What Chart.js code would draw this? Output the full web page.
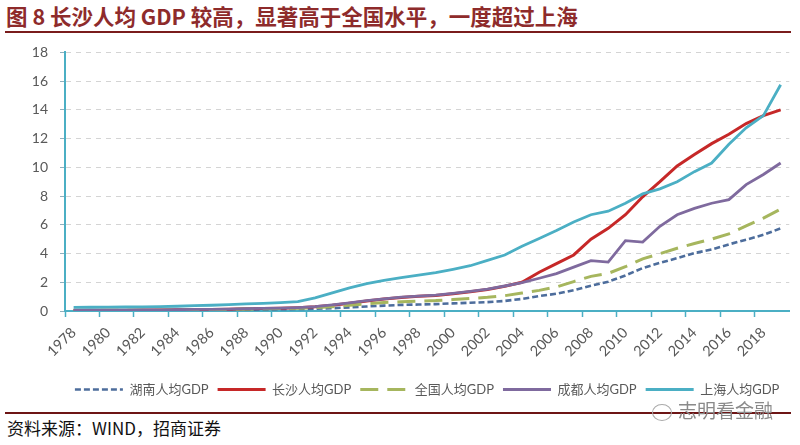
<!DOCTYPE html>
<html>
<head>
<meta charset="utf-8">
<script src="https://cdn.jsdelivr.net/npm/chart.js@4.4.1/dist/chart.umd.min.js"></script>
<style>
html,body{margin:0;padding:0;background:#fff;width:800px;height:445px;overflow:hidden;font-family:'Noto Sans CJK SC',sans-serif;}
#title{position:absolute;left:6px;top:3px;font-size:21.5px;font-weight:bold;color:#8e2b2b;white-space:nowrap;line-height:26px;}
#tline{position:absolute;left:5px;top:31px;width:786px;height:2px;background:#7a1c1c;}
#wrap{position:absolute;left:0;top:32px;width:800px;height:376px;}
#fline{position:absolute;left:5px;top:412px;width:786px;height:2px;background:#6d1515;}
#src{position:absolute;left:7px;top:416px;font-size:17px;color:#111;line-height:24px;white-space:nowrap;}
#wm{position:absolute;left:652px;top:398px;font-size:19px;color:#8a8a8a;white-space:nowrap;line-height:24px;}
#wm .ic{display:inline-block;width:18px;height:15px;border:1.5px solid #aaa;border-radius:50%;vertical-align:middle;margin-right:6px;}
canvas{display:block;}
</style>
</head>
<body>
<div id="title">图 8 长沙人均 GDP 较高，显著高于全国水平，一度超过上海</div>
<div id="tline"></div>
<div id="wrap"><canvas id="c" width="800" height="376"></canvas></div>
<div id="fline"></div>
<div id="src">资料来源：WIND，招商证券</div>
<div id="wm"><span class="ic"></span>志明看金融</div>
<script>
const years = ['1978','1979','1980','1981','1982','1983','1984','1985','1986','1987','1988','1989',
  '1990','1991','1992','1993','1994','1995','1996','1997','1998','1999',
  '2000','2001','2002','2003','2004','2005','2006','2007','2008','2009',
  '2010','2011','2012','2013','2014','2015','2016','2017','2018','2019'];

const seriesNames = ['湖南人均GDP','长沙人均GDP','全国人均GDP','成都人均GDP','上海人均GDP'];

const hunan = [0.029,0.032,0.037,0.037,0.040,0.042,0.048,0.063,0.066,0.074,0.090,0.102,
  0.123,0.137,0.158,0.193,0.252,0.312,0.375,0.424,0.452,0.480,
  0.530,0.574,0.620,0.700,0.840,1.040,1.200,1.450,1.760,2.040,
  2.470,2.990,3.350,3.680,4.030,4.280,4.640,4.960,5.300,5.750];

const changsha = [0.045,0.05,0.055,0.06,0.065,0.075,0.085,0.10,0.11,0.125,0.15,0.17,
  0.19,0.23,0.29,0.40,0.54,0.70,0.83,0.94,1.02,1.08,
  1.20,1.34,1.50,1.72,2.00,2.70,3.30,3.90,5.00,5.75,
  6.70,7.95,9.00,10.10,10.90,11.65,12.30,13.05,13.60,14.00];

const national = [0.0385,0.0423,0.0468,0.0497,0.0533,0.0592,0.0698,0.0866,0.0973,0.1123,0.1378,0.1536,
  0.1663,0.1912,0.2334,0.3027,0.4081,0.5091,0.5898,0.6481,0.6860,0.7229,
  0.7942,0.8717,0.9506,1.0666,1.2487,1.4368,1.6738,2.0494,2.4100,2.6180,
  3.0808,3.6302,3.9874,4.3684,4.7005,5.0028,5.3680,5.9201,6.4644,7.0892];

const chengdu = [0.05,0.055,0.06,0.065,0.07,0.08,0.09,0.11,0.12,0.135,0.16,0.18,
  0.20,0.24,0.30,0.42,0.56,0.72,0.85,0.96,1.04,1.10,
  1.22,1.36,1.52,1.74,1.98,2.28,2.60,3.05,3.50,3.40,
  4.90,4.80,5.90,6.70,7.14,7.50,7.75,8.80,9.50,10.30];

const shanghai = [0.25,0.26,0.27,0.28,0.29,0.30,0.33,0.38,0.40,0.44,0.50,0.53,
  0.58,0.65,0.92,1.26,1.61,1.90,2.14,2.33,2.50,2.67,
  2.90,3.15,3.52,3.90,4.50,5.05,5.60,6.20,6.70,6.95,
  7.50,8.15,8.50,9.00,9.70,10.30,11.60,12.75,13.60,15.75];

const yTicks = {min: 0, max: 18, step: 2};

const TEAL = '#4bafc4';
const common = {pointRadius: 0, pointHoverRadius: 0, tension: 0, fill: false};

new Chart(document.getElementById('c'), {
  type: 'line',
  data: {
    labels: years,
    datasets: [
      Object.assign({label: seriesNames[0], data: hunan, borderColor: '#4d6d9c', backgroundColor: '#4d6d9c', borderWidth: 2.6, borderDash: [6, 3], order: 4}, common),
      Object.assign({label: seriesNames[1], data: changsha, borderColor: '#c62828', backgroundColor: '#c62828', borderWidth: 3, order: 3}, common),
      Object.assign({label: seriesNames[2], data: national, borderColor: '#a6b65e', backgroundColor: '#a6b65e', borderWidth: 3, borderDash: [18, 9], order: 2}, common),
      Object.assign({label: seriesNames[3], data: chengdu, borderColor: '#7f6a9e', backgroundColor: '#7f6a9e', borderWidth: 2.8, order: 1}, common),
      Object.assign({label: seriesNames[4], data: shanghai, borderColor: TEAL, backgroundColor: TEAL, borderWidth: 2.8, order: 0}, common)
    ]
  },
  options: {
    responsive: false,
    animation: false,
    layout: {padding: {top: 13, right: 5, left: 0, bottom: 2}},
    plugins: {
      tooltip: {enabled: false},
      title: {display: false},
      legend: {
        position: 'bottom',
        fullSize: false,
        labels: {
          usePointStyle: true,
          pointStyle: 'line',
          pointStyleWidth: 48,
          padding: 9,
          color: '#595959',
          font: {family: "Lato, 'Noto Sans CJK SC'", size: 13},
          sort: (a, b) => a.datasetIndex - b.datasetIndex,
          generateLabels: (chart) => {
            const items = Chart.defaults.plugins.legend.labels.generateLabels(chart);
            items.forEach((it) => {
              const ds = chart.data.datasets[it.datasetIndex];
              it.lineDash = ds.borderDash || [];
              it.lineWidth = ds.borderWidth;
              it.strokeStyle = ds.borderColor;
              it.fillStyle = 'rgba(0,0,0,0)';
              it.pointStyle = 'line';
            });
            return items;
          }
        }
      }
    },
    scales: {
      x: {
        offset: true,
        ticks: {
          autoSkip: false, maxRotation: 45, minRotation: 45, padding: 7,
          color: '#595959', font: {family: 'Lato', size: 14.5},
          callback: function(value, index) { return index % 2 === 0 ? this.getLabelForValue(value) : ''; }
        },
        grid: {
          offset: true, drawOnChartArea: false, drawTicks: true, tickLength: 6, tickWidth: 1.5,
          tickColor: (c) => (c.index % 2 === 0 ? TEAL : 'rgba(0,0,0,0)')
        },
        border: {color: TEAL, width: 2},
        afterFit: (s) => { s.height = 63; }
      },
      y: {
        min: yTicks.min, max: yTicks.max,
        ticks: {stepSize: yTicks.step, padding: 12, color: '#595959', font: {family: 'Lato', size: 14}},
        grid: {color: '#d4d4d4', lineWidth: 1, tickColor: '#8fb0bd', tickLength: 5},
        border: {color: TEAL, width: 2, dash: [5, 5]},
        afterFit: (s) => { s.width = 65; }
      }
    }
  }
});
</script>
</body>
</html>
